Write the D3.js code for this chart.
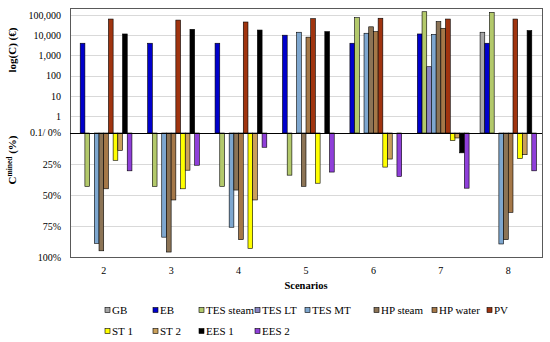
<!DOCTYPE html>
<html>
<head>
<meta charset="utf-8">
<script src="https://cdn.jsdelivr.net/npm/d3@7"></script>
<style>
  body { margin: 0; background: #fff; }
  svg text { font-family: "Liberation Serif", "Times New Roman", Times, serif !important; fill: #000; }
</style>
</head>
<body>
<div id="chart"></div>
<script>
// Scenarios on the x axis
let scenarios = ["2", "3", "4", "5", "6", "7", "8"];

// Series names, in the order they are drawn in each cluster
let seriesNames = ["GB", "EB", "TES steam", "TES LT", "TES MT", "HP steam",
  "HP water", "PV", "ST 1", "ST 2", "EES 1", "EES 2"];

let seriesColors = ["#a6a6a6", "#0000cc", "#b3c96b", "#8a86c4", "#7ea7cf", "#8c7456",
  "#a57848", "#a0340f", "#ffff00", "#caa05a", "#000000", "#8f3fd9"];

// Cost C (€), upper half, log scale (0 = no bar)
let costGB = [0, 0, 0, 0, 0, 0, 14000];
let costEB = [4000, 4000, 4000, 10000, 4000, 11500, 4000];
let costTESsteam = [0, 0, 0, 0, 74000, 145000, 135000];
let costTESLT = [0, 0, 0, 0, 0, 275, 0];
let costTESMT = [0, 0, 0, 14000, 12500, 11000, 0];
let costHPsteam = [0, 0, 0, 0, 26000, 47000, 0];
let costHPwater = [0, 0, 0, 8000, 15000, 22000, 0];
let costPV = [63000, 56000, 45000, 66000, 69000, 63000, 63000];
let costST1 = [0, 0, 0, 0, 0, 0, 0];
let costST2 = [0, 0, 0, 0, 0, 0, 0];
let costEES1 = [11500, 19500, 18000, 15000, 0, 0, 17000];
let costEES2 = [0, 0, 0, 0, 0, 0, 0];

// C mined (%), lower half
let minedGB = [0, 0, 0, 0, 0, 0, 0];
let minedEB = [0, 0, 0, 0, 0, 0, 0];
let minedTESsteam = [43, 43, 43, 34, 0, 0, 0];
let minedTESLT = [0, 0, 0, 0, 0, 0, 0];
let minedTESMT = [89, 84, 76, 0, 0, 0, 89.5];
let minedHPsteam = [95, 96, 46, 43, 0, 0, 86];
let minedHPwater = [45, 54, 86, 0, 0, 0, 64];
let minedPV = [0, 0, 0, 0, 0, 0, 0];
let minedST1 = [22, 45, 93, 40.5, 27.5, 6, 20.5];
let minedST2 = [14, 30, 54, 0, 21, 4, 17.5];
let minedEES1 = [0, 0, 0, 0, 0, 16, 0];
let minedEES2 = [30.5, 26, 11.5, 31.5, 35, 44.5, 30.5];

// Tick values
let costTicks = [1, 10, 100, 1000, 10000, 100000];
let minedTicks = [25, 50, 75, 100];
let zeroLabel = "0.1/ 0%";

let costSeries = [costGB, costEB, costTESsteam, costTESLT, costTESMT, costHPsteam,
  costHPwater, costPV, costST1, costST2, costEES1, costEES2];
let minedSeries = [minedGB, minedEB, minedTESsteam, minedTESLT, minedTESMT, minedHPsteam,
  minedHPwater, minedPV, minedST1, minedST2, minedEES1, minedEES2];

// Chart dimensions
let width = 550;
let height = 342;
let plotLeft = 70;
let plotRight = 542;
let plotTop = 8;
let plotBottom = 257;
let zeroY = 133;
let serif = "'Liberation Serif', 'Times New Roman', serif";

let svg = d3.select("#chart")
  .append("svg")
  .attr("width", width)
  .attr("height", height);

// Scales
let x0 = d3.scaleBand().domain(scenarios).range([plotLeft, plotRight]);
let gap = x0.bandwidth() * 0.163;
let x1 = d3.scaleBand().domain(seriesNames).range([gap / 2, x0.bandwidth() - gap / 2]);
let yCost = d3.scaleLog().domain([1, 100000]).range([116, 15]);
let yMined = d3.scaleLinear().domain([0, 100]).range([zeroY, plotBottom]);

// Grid lines
svg.append("g")
  .selectAll("line")
  .data(costTicks)
  .enter()
  .append("line")
  .attr("x1", plotLeft).attr("x2", plotRight)
  .attr("y1", d => Math.round(yCost(d)) + 0.5)
  .attr("y2", d => Math.round(yCost(d)) + 0.5)
  .attr("stroke", "#d9d9d9");

svg.append("g")
  .selectAll("line")
  .data(minedTicks.slice(0, 3))
  .enter()
  .append("line")
  .attr("x1", plotLeft).attr("x2", plotRight)
  .attr("y1", d => Math.round(yMined(d)) + 0.5)
  .attr("y2", d => Math.round(yMined(d)) + 0.5)
  .attr("stroke", "#d9d9d9");

// Bars, one group per scenario
let groups = svg.append("g")
  .selectAll("g")
  .data(scenarios)
  .enter()
  .append("g")
  .attr("transform", d => "translate(" + x0(d) + ",0)");

// upper bars (cost)
groups.selectAll(".costBar")
  .data((d, i) => seriesNames.map((s, j) => ({ s: s, j: j, v: costSeries[j][i] })).filter(e => e.v > 0))
  .enter()
  .append("rect")
  .attr("class", "costBar")
  .attr("x", d => x1(d.s))
  .attr("width", x1.bandwidth())
  .attr("y", d => yCost(d.v))
  .attr("height", d => zeroY - yCost(d.v))
  .attr("fill", d => seriesColors[d.j])
  .attr("stroke", "#000")
  .attr("stroke-width", 0.6);

// lower bars (C mined)
groups.selectAll(".minedBar")
  .data((d, i) => seriesNames.map((s, j) => ({ s: s, j: j, v: minedSeries[j][i] })).filter(e => e.v > 0))
  .enter()
  .append("rect")
  .attr("class", "minedBar")
  .attr("x", d => x1(d.s))
  .attr("width", x1.bandwidth())
  .attr("y", zeroY)
  .attr("height", d => yMined(d.v) - zeroY)
  .attr("fill", d => seriesColors[d.j])
  .attr("stroke", "#000")
  .attr("stroke-width", 0.6);

// Plot frame and zero line
svg.append("rect")
  .attr("x", plotLeft + 0.5).attr("y", plotTop + 0.5)
  .attr("width", plotRight - plotLeft).attr("height", plotBottom - plotTop)
  .attr("fill", "none")
  .attr("stroke", "#595959");

svg.append("line")
  .attr("x1", plotLeft).attr("x2", plotRight)
  .attr("y1", zeroY + 0.5).attr("y2", zeroY + 0.5)
  .attr("stroke", "#000");

// Y axes (labels only)
let costAxis = d3.axisLeft(yCost)
  .tickValues(costTicks)
  .tickFormat(d3.format(","))
  .tickSize(0)
  .tickPadding(9);

let minedAxis = d3.axisLeft(yMined)
  .tickValues(minedTicks)
  .tickFormat(d => d + "%")
  .tickSize(0)
  .tickPadding(9);

[costAxis, minedAxis].forEach(function(ax) {
  let g = svg.append("g")
    .attr("transform", "translate(" + plotLeft + ",0)")
    .call(ax)
    .attr("font-family", serif)
    .attr("font-size", 10);
  g.select(".domain").remove();
});

svg.append("text")
  .attr("x", plotLeft - 9)
  .attr("y", zeroY)
  .attr("dy", "0.32em")
  .attr("text-anchor", "end")
  .attr("font-size", 10)
  .text(zeroLabel);

// X axis (labels only)
let xAxis = d3.axisBottom(x0).tickSize(0).tickPadding(10);
let xg = svg.append("g")
  .attr("transform", "translate(0," + plotBottom + ")")
  .call(xAxis)
  .attr("font-family", serif)
  .attr("font-size", 10);
xg.select(".domain").remove();

// Axis titles
svg.append("text")
  .attr("x", (plotLeft + plotRight) / 2)
  .attr("y", 289)
  .attr("text-anchor", "middle")
  .attr("font-weight", "bold")
  .attr("font-size", 10.5)
  .text("Scenarios");

svg.append("text")
  .attr("transform", "translate(16,50)rotate(-90)")
  .attr("text-anchor", "middle")
  .attr("font-weight", "bold")
  .attr("font-size", 11)
  .text("log(C) (€)");

let minedTitle = svg.append("text")
  .attr("transform", "translate(16,160)rotate(-90)")
  .attr("text-anchor", "middle")
  .attr("font-weight", "bold")
  .attr("font-size", 11);
minedTitle.append("tspan").text("C");
minedTitle.append("tspan").attr("font-size", 7.5).attr("dy", -4).text("mined");
minedTitle.append("tspan").attr("dy", 4).text(" (%)");

// Legend: two rows, row 2 reuses the first columns
let legendCols = [105, 153, 199, 255, 305, 374, 432, 487];
let legendRows = [310, 331];

let legend = svg.append("g")
  .selectAll("g")
  .data(seriesNames)
  .enter()
  .append("g")
  .attr("transform", (d, i) => "translate(" + legendCols[i % 8] + "," + legendRows[Math.floor(i / 8)] + ")");

legend.append("rect")
  .attr("x", 0).attr("y", -2.5)
  .attr("width", 5).attr("height", 5)
  .attr("fill", (d, i) => seriesColors[i])
  .attr("stroke", "#000")
  .attr("stroke-width", 0.6);

legend.append("text")
  .attr("x", 7)
  .attr("dy", "0.35em")
  .attr("font-size", 11)
  .text(d => d);
</script>
</body>
</html>
